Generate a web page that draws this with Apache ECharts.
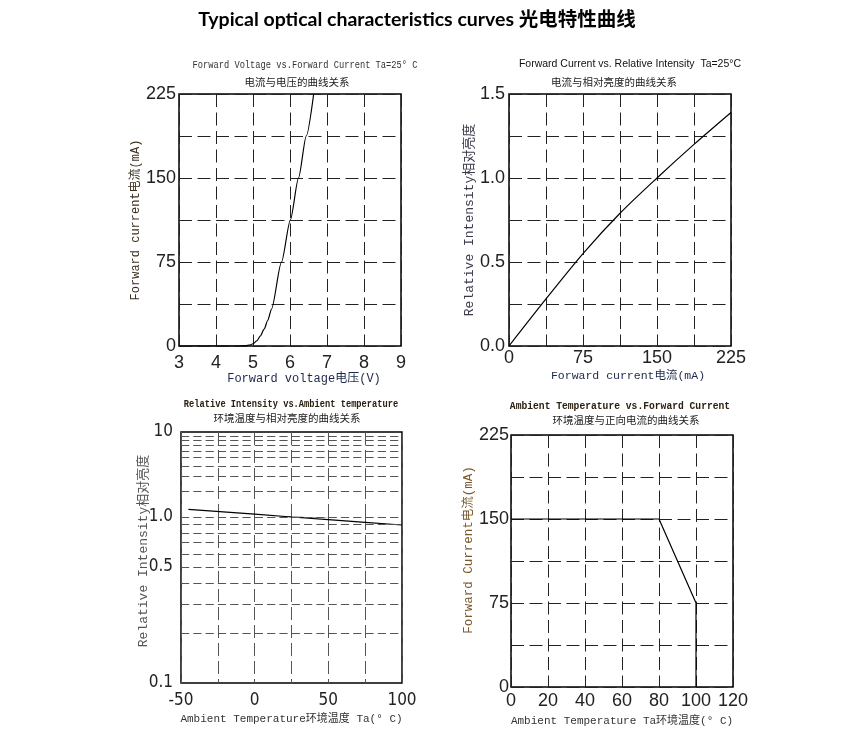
<!DOCTYPE html>
<html><head><meta charset="utf-8">
<script src="https://cdn.jsdelivr.net/npm/echarts/dist/echarts.min.js"></script>
<style>html,body{margin:0;padding:0;background:#fff}#c{width:868px;height:747px}</style>
</head><body><div id="c"></div>
<script>
// ---- Chart 1: Forward Voltage vs Forward Current ----
const fvVoltage = [3.0, 4.6, 4.8, 4.9, 5.0, 5.1, 5.2, 5.3, 5.4, 5.5, 5.77, 6.01, 6.23, 6.44, 6.64];
const fvCurrent = [0, 0, 0.3, 0.8, 2, 4.5, 9, 15, 23, 33, 75, 112.5, 150, 187.5, 225];
// ---- Chart 2: Forward Current vs Relative Intensity ----
const riCurrent = [0, 37.5, 75, 112.5, 150, 187.5, 225];
const riIntensity = [0, 0.28, 0.55, 0.79, 1.0, 1.2, 1.39];
// ---- Chart 3: Relative Intensity vs Ambient temperature ----
const taTemp = [-45, 0, 25, 50, 75, 100];
const taIntensity = [1.23, 1.08, 1.0, 0.963, 0.928, 0.895];
const taGridUpper = [1, 2, 3, 4, 5, 6, 7, 8, 9];
const taGridLower = [0.2, 0.3, 0.4, 0.5, 0.6, 0.7, 0.8, 0.9];
const taYLabels = [10, 1, 0.5, 0.1];
// ---- Chart 4: Ambient Temperature vs Forward Current ----
const atTemp = [0, 80, 100, 100];
const atCurrent = [150, 150, 75, 0];

const mainTitle = 'Typical optical characteristics curves 光电特性曲线';

const F_MONO = "'Liberation Mono','Noto Sans CJK SC',monospace";
const F_CJK = "'Noto Sans CJK SC',sans-serif";
const F_TICK = "'Liberation Sans',Arial,sans-serif";
const F_NARROW = "'Liberation Sans Narrow','DejaVu Sans Condensed','Liberation Sans',sans-serif";

const zip = (a, b) => a.map((v, i) => [v, b[i]]);
const DASH = [13, 5.5];
const dash = (color, t) => ({show: true, lineStyle: {type: t || DASH, color: color, width: 1}});
const noLine = {show: false};
const tick = (size, margin, fam) => ({fontFamily: fam || F_TICK, fontSize: size, color: '#222', margin: margin});
const near = (v, arr) => arr.some(a => Math.abs(a - v) < 1e-6);

const border = {show: true, borderColor: '#000', borderWidth: 1.5, backgroundColor: 'transparent'};

const chart = echarts.init(document.getElementById('c'), null, {renderer: 'canvas'});

function txt(x, y, text, font, size, color, weight, sx) {
  return {type: 'text', x: x, y: y, scaleX: sx || 1, silent: true,
    style: {text: text, font: (weight || 'normal') + ' ' + size + 'px ' + font, fill: color || '#111',
      align: 'center', verticalAlign: 'middle'}};
}

const option = {
  animation: false,
  backgroundColor: '#fff',
  graphic: [
    txt(417, 20, mainTitle, "'Lato','Noto Sans CJK SC',sans-serif", 19.5, '#000', 'bold'),
    txt(305, 65, 'Forward Voltage vs.Forward Current Ta=25° C', F_MONO, 10.5, '#333', 'normal', 0.83),
    txt(297, 82, '电流与电压的曲线关系', F_CJK, 10.5, '#222'),
    txt(630, 64, 'Forward Current vs. Relative Intensity  Ta=25°C', F_TICK, 10.5, '#111'),
    txt(614, 82, '电流与相对亮度的曲线关系', F_CJK, 10.5, '#222'),
    txt(291, 404, 'Relative Intensity vs.Ambient temperature', F_MONO, 10.5, '#2a2010', 'bold', 0.83),
    txt(287, 418, '环境温度与相对亮度的曲线关系', F_CJK, 10.5, '#222'),
    txt(620, 406, 'Ambient Temperature vs.Forward Current', F_MONO, 11.5, '#2a2010', 'bold', 0.84),
    txt(626, 420, '环境温度与正向电流的曲线关系', F_CJK, 10.5, '#222')
  ],
  grid: [
    Object.assign({left: 179, top: 94, width: 222, height: 252}, border),
    Object.assign({left: 509, top: 94, width: 222, height: 252}, border),
    {left: 181, top: 432, width: 221, height: 85, show: false},
    {left: 181, top: 517, width: 221, height: 166, show: false},
    Object.assign({left: 181, top: 432, width: 221, height: 251}, border),
    Object.assign({left: 511, top: 435, width: 222, height: 252}, border)
  ],
  xAxis: [
    {gridIndex: 0, type: 'value', min: 3, max: 9, interval: 1,
     axisLine: noLine, axisTick: noLine, splitLine: dash('#222'),
     axisLabel: tick(18, 8),
     name: 'Forward voltage电压(V)', nameLocation: 'middle', nameGap: 26,
     nameTextStyle: {fontFamily: F_MONO, fontSize: 12, color: '#1c2848', padding: [0, 0, 0, 28]}},
    {gridIndex: 1, type: 'value', min: 0, max: 225, interval: 37.5,
     axisLine: noLine, axisTick: noLine, splitLine: dash('#222'),
     axisLabel: Object.assign(tick(18, 3), {formatter: v => (v % 75 === 0 ? String(v) : '')}),
     name: 'Forward current电流(mA)', nameLocation: 'middle', nameGap: 24,
     nameTextStyle: {fontFamily: F_MONO, fontSize: 11.5, color: '#1c2848', padding: [0, 0, 0, 16]}},
    {gridIndex: 2, type: 'value', min: -50, max: 100, interval: 25,
     axisLine: noLine, axisTick: noLine, axisLabel: {show: false}, splitLine: dash('#555', [13, 5])},
    {gridIndex: 3, type: 'value', min: -50, max: 100, interval: 25,
     axisLine: noLine, axisTick: noLine, splitLine: dash('#555', [13, 5]),
     axisLabel: Object.assign(tick(17, 9, F_NARROW), {formatter: v => (v % 50 === 0 ? String(v) : '')}),
     name: 'Ambient Temperature环境温度 Ta(° C)', nameLocation: 'middle', nameGap: 31,
     nameTextStyle: {fontFamily: F_MONO, fontSize: 11, color: '#333'}},
    {gridIndex: 4, type: 'value', min: 0, max: 1, show: false},
    {gridIndex: 5, type: 'value', min: 0, max: 120, interval: 20,
     axisLine: noLine, axisTick: noLine, splitLine: dash('#222'),
     axisLabel: tick(18, 5),
     name: 'Ambient Temperature Ta环境温度(° C)', nameLocation: 'middle', nameGap: 29,
     nameTextStyle: {fontFamily: F_MONO, fontSize: 11, color: '#333'}}
  ],
  yAxis: [
    {gridIndex: 0, type: 'value', min: 0, max: 225, interval: 37.5,
     axisLine: noLine, axisTick: noLine, splitLine: dash('#222'),
     axisLabel: Object.assign(tick(18, 3), {formatter: v => (v % 75 === 0 ? String(v) : '')}),
     name: 'Forward current电流(mA)', nameLocation: 'middle', nameGap: 35,
     nameTextStyle: {fontFamily: F_MONO, fontSize: 12, color: '#3a3020'}},
    {gridIndex: 1, type: 'value', min: 0, max: 1.5, interval: 0.25,
     axisLine: noLine, axisTick: noLine, splitLine: dash('#222'),
     axisLabel: Object.assign(tick(18, 4), {formatter: v => (Math.abs(v * 2 - Math.round(v * 2)) < 1e-6 ? v.toFixed(1) : '')}),
     name: 'Relative Intensity相对亮度', nameLocation: 'middle', nameGap: 33,
     nameTextStyle: {fontFamily: F_MONO, fontSize: 13, color: '#3a3a4a'}},
    {gridIndex: 2, type: 'log', logBase: 10, min: 1, max: 10,
     axisLine: noLine, axisTick: noLine, splitLine: noLine,
     axisLabel: Object.assign(tick(17, 8, F_NARROW), {formatter: v => (near(v, taYLabels) ? (v === 10 ? '10' : Number(v).toFixed(1)) : '')})},
    {gridIndex: 3, type: 'log', logBase: 2, min: 0.1, max: 1,
     axisLine: noLine, axisTick: noLine, splitLine: noLine,
     axisLabel: Object.assign(tick(17, 8, F_NARROW), {formatter: v => ((near(v, taYLabels) && Math.abs(v - 1) > 1e-6) ? Number(v).toFixed(1) : '')})},
    {gridIndex: 4, type: 'value', min: 0, max: 1,
     axisLine: noLine, axisTick: noLine, splitLine: noLine, axisLabel: {show: false},
     name: 'Relative Intensity相对亮度', nameLocation: 'middle', nameGap: 31,
     nameTextStyle: {fontFamily: F_MONO, fontSize: 13, color: '#555', padding: [0, 0, 0, 13]}},
    {gridIndex: 5, type: 'value', min: 0, max: 225, interval: 37.5,
     axisLine: noLine, axisTick: noLine, splitLine: dash('#222'),
     axisLabel: Object.assign(tick(18, 2), {formatter: v => (v % 75 === 0 ? String(v) : '')}),
     name: 'Forward Current电流(mA)', nameLocation: 'middle', nameGap: 34,
     nameTextStyle: {fontFamily: F_MONO, fontSize: 12.5, color: '#7b5a2e', padding: [0, 0, 0, 22]}}
  ],
  series: [
    {type: 'line', xAxisIndex: 0, yAxisIndex: 0, data: zip(fvVoltage, fvCurrent),
     smooth: 0.25, smoothMonotone: 'x', symbol: 'none', lineStyle: {color: '#000', width: 1.2}, silent: true},
    {type: 'line', xAxisIndex: 1, yAxisIndex: 1, data: zip(riCurrent, riIntensity),
     smooth: 0.3, symbol: 'none', lineStyle: {color: '#000', width: 1.2}, silent: true},
    {type: 'line', xAxisIndex: 2, yAxisIndex: 2, data: zip(taTemp, taIntensity), clip: true,
     symbol: 'none', lineStyle: {color: '#000', width: 1.2}, silent: true,
     markLine: {silent: true, symbol: ['none', 'none'], label: {show: false}, animation: false,
       lineStyle: {type: [8.2, 4.1], color: '#555', width: 1}, emphasis: {disabled: true},
       data: taGridUpper.map(v => ({yAxis: v}))}},
    {type: 'line', xAxisIndex: 3, yAxisIndex: 3, data: zip(taTemp, taIntensity), clip: true,
     symbol: 'none', lineStyle: {color: '#000', width: 1.2}, silent: true,
     markLine: {silent: true, symbol: ['none', 'none'], label: {show: false}, animation: false,
       lineStyle: {type: [8.2, 4.1], color: '#555', width: 1}, emphasis: {disabled: true},
       data: taGridLower.map(v => ({yAxis: v}))}},
    {type: 'line', xAxisIndex: 5, yAxisIndex: 5, data: zip(atTemp, atCurrent),
     symbol: 'none', lineStyle: {color: '#000', width: 1.2}, silent: true}
  ]
};
chart.setOption(option);
</script>
</body></html>
